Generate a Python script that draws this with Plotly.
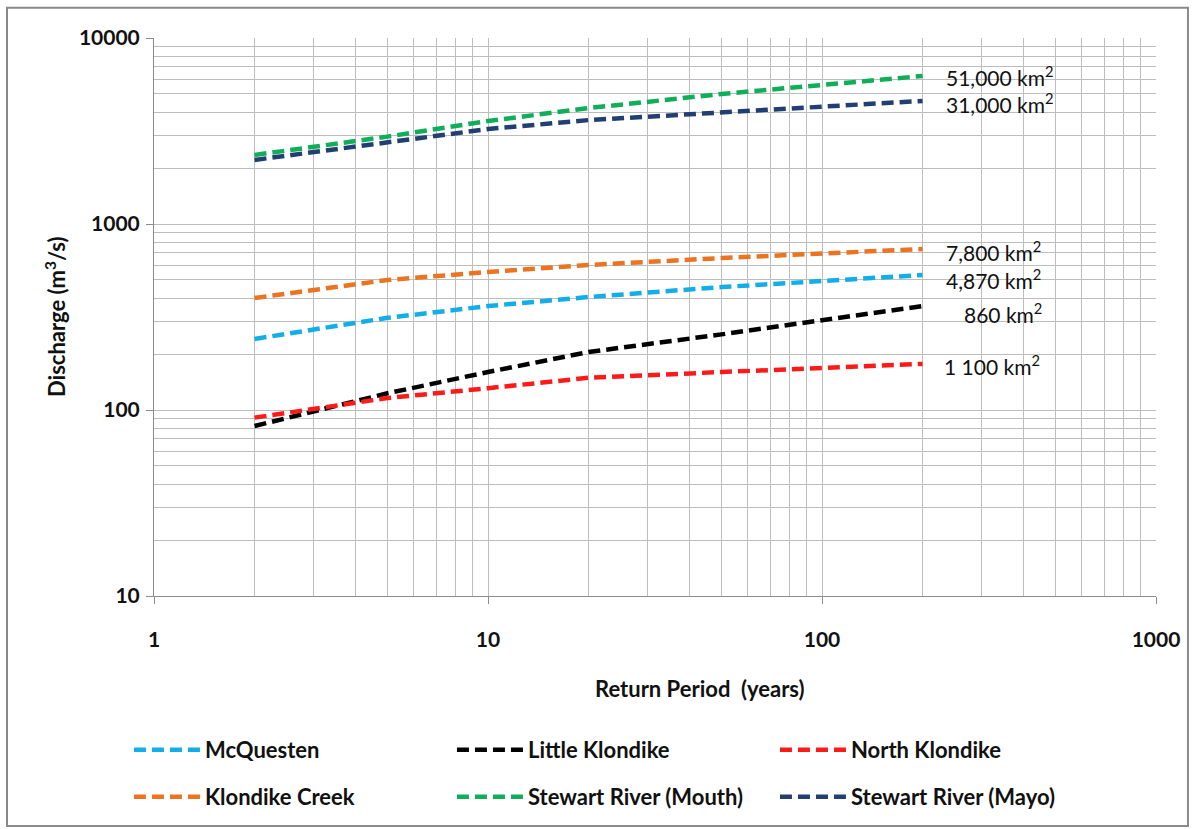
import math
import plotly.graph_objects as go

# Return periods (years) at which each design discharge is evaluated
return_period = [2, 5, 10, 20, 50, 100, 200]

# Peak discharge (m3/s) per watershed
mcquesten = [241, 313, 362, 405, 458, 494, 532]
little_klondike = [82, 123, 160, 205, 255, 305, 362]
north_klondike = [91, 116, 131, 149, 160, 168, 177]
klondike_creek = [400, 500, 552, 602, 656, 698, 734]
stewart_mouth = [2350, 2950, 3580, 4200, 5000, 5590, 6250]
stewart_mayo = [2210, 2750, 3240, 3620, 4000, 4310, 4590]

series_names = ["McQuesten", "Little Klondike", "North Klondike",
                "Klondike Creek", "Stewart River (Mouth)", "Stewart River (Mayo)"]
series_values = [mcquesten, little_klondike, north_klondike,
                 klondike_creek, stewart_mouth, stewart_mayo]
series_colors = ["#12AEEA", "#000000", "#FF1A1A", "#EC7320", "#0FAF5A", "#213F73"]
series_legend = ["legend", "legend", "legend", "legend2", "legend2", "legend2"]

# Drainage-area labels beside the end of each curve
area_labels = ["4,870 km<sup>2</sup>", "860 km<sup>2</sup>", "1 100 km<sup>2</sup>",
               "7,800 km<sup>2</sup>", "51,000 km<sup>2</sup>", "31,000 km<sup>2</sup>"]
label_xshift = [21, 39, 19, 21, 21, 21]
label_yshift = [-4, -7, -1, -2, 0, -2]

x_ticks = [1, 10, 100, 1000]
y_ticks = [10, 100, 1000, 10000]

FONT = "Lato"
GRID = "#bdbdbd"

fig = go.Figure()
for name, vals, color, lg in zip(series_names, series_values, series_colors, series_legend):
    fig.add_trace(go.Scatter(
        x=return_period, y=vals, mode="lines", name=name, legend=lg,
        line=dict(color=color, width=4.5, dash="12px,6px"),
    ))

for vals, text, dx, dy in zip(series_values, area_labels, label_xshift, label_yshift):
    fig.add_annotation(
        x=math.log10(return_period[-1]), y=math.log10(vals[-1]),
        text=text, showarrow=False, xanchor="left", yanchor="middle",
        xshift=dx, yshift=dy,
        font=dict(family=FONT, size=21, color="#111111"),
    )

axis_common = dict(
    type="log", dtick=1, showgrid=True, gridcolor=GRID, gridwidth=1,
    showline=True, linecolor="#8c8c8c", linewidth=1, mirror=False,
    ticks="outside", ticklen=7, tickcolor="#8c8c8c", tickwidth=1,
    minor=dict(dtick="D1", showgrid=True, gridcolor=GRID, gridwidth=1, ticks=""),
    tickfont=dict(family=FONT, size=21, color="#111111", weight="bold"),
    zeroline=False,
)

fig.update_xaxes(
    **axis_common, range=[0, 3], tickvals=x_ticks, ticktext=[str(v) for v in x_ticks],
    ticklabelstandoff=18,
)
fig.update_yaxes(
    **axis_common, range=[1, 4], tickvals=y_ticks, ticktext=[str(v) for v in y_ticks],
    ticklabelstandoff=2,
)

# Axis titles
fig.add_annotation(
    xref="paper", yref="paper", x=0.545, y=-0.165, xanchor="center", yanchor="middle",
    text="Return Period&nbsp; (years)", showarrow=False,
    font=dict(family=FONT, size=22, color="#111111", weight="bold"),
)
fig.add_annotation(
    xref="paper", yref="paper", x=-0.0988, y=0.5, xanchor="center", yanchor="middle",
    text="Discharge (m<sup>3</sup>/s)", textangle=-90, showarrow=False,
    font=dict(family=FONT, size=22, color="#111111", weight="bold"),
)

# Outer chart frame
fig.add_shape(type="rect", xref="paper", yref="paper",
              x0=-0.1467, x1=1.0319, y0=-0.412, y1=1.054,
              line=dict(color="#8a8a8a", width=2), fillcolor="rgba(0,0,0,0)", layer="above")

legend_common = dict(
    orientation="h", xanchor="left", yanchor="middle",
    entrywidth=242, entrywidthmode="pixels", itemwidth=66,
    font=dict(family=FONT, size=22, color="#111111", weight="bold"),
    bgcolor="rgba(0,0,0,0)", traceorder="normal",
)

fig.update_layout(
    width=1194, height=829,
    margin=dict(l=154, r=38, t=38, b=233, autoexpand=False),
    paper_bgcolor="white", plot_bgcolor="white",
    showlegend=True,
    legend=dict(**legend_common, x=-0.025, y=-0.276),
    legend2=dict(**legend_common, x=-0.025, y=-0.360),
)

fig.write_html("out.html")
